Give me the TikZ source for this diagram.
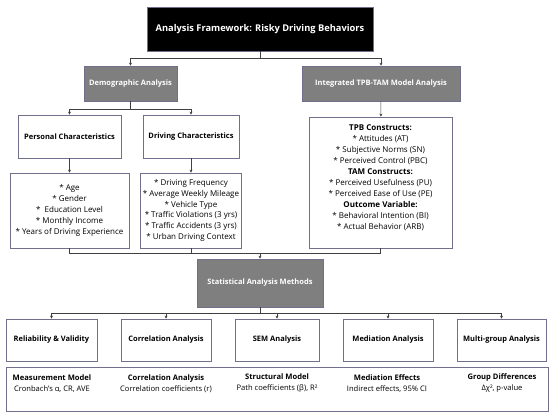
\documentclass[tikz,border=0pt]{standalone}
\usepackage{fontspec}
\setmainfont{Open Sans}
\usetikzlibrary{arrows.meta}
\definecolor{bordc}{HTML}{70708C}
\definecolor{grayfill}{HTML}{7F7F7F}
\definecolor{linec}{HTML}{404040}
\tikzset{
  box/.style={draw=bordc, line width=0.7pt, fill=white, inner sep=1pt, align=center, font=\fontsize{7.5}{9}\selectfont\bfseries},
  graybox/.style={box, fill=grayfill, text=white},
  itembox/.style={box, font=\fontsize{8}{10.8}\selectfont},
  conn/.style={draw=linec, line width=0.6pt},
  arr/.style={conn, -{Stealth[length=3pt,width=3pt]}},
  lbl/.style={align=center, inner sep=0pt, font=\fontsize{7.6}{11}\selectfont},
  tlbl/.style={align=center, inner sep=0pt, font=\fontsize{8}{11}\selectfont},
}
\begin{document}
\begin{tikzpicture}[x=1pt,y=-1pt]
\useasboundingbox (0,0) rectangle (550,415);
% top
\node[box, fill=black, text=white, minimum width=226pt, minimum height=44pt, font=\fontsize{9.3}{11}\selectfont\bfseries] (title) at (260,29) {Analysis Framework: Risky Driving Behaviors};
\node[graybox, minimum width=93pt, minimum height=35pt] (demo) at (130.5,83.5) {Demographic Analysis};
\node[graybox, minimum width=158pt, minimum height=35pt] (tpbtam) at (381,83.5) {Integrated TPB-TAM Model Analysis};
% second level
\node[box, minimum width=103pt, minimum height=43pt] (personal) at (69.5,136.5) {Personal Characteristics};
\node[box, minimum width=96pt, minimum height=43pt] (driving) at (191,136.5) {Driving Characteristics};
\node[itembox, minimum width=119pt, minimum height=75pt] (pitems) at (69.5,210.5) {* Age\\* Gender\\*\ \ Education Level\\* Monthly Income\\* Years of Driving Experience};
\node[itembox, minimum width=101pt, minimum height=75pt] (ditems) at (191,210.5) {* Driving Frequency\\* Average Weekly Mileage\\* Vehicle Type\\* Traffic Violations (3 yrs)\\* Traffic Accidents (3 yrs)\\* Urban Driving Context};
\node[draw=bordc, line width=0.7pt, fill=white, minimum width=143pt, minimum height=131pt] (tpb) at (380.5,182.5) {};
\node[tlbl] (tpbtext) at (380.5,177.5) {\textbf{TPB Constructs:}\\* Attitudes (AT)\\* Subjective Norms (SN)\\* Perceived Control (PBC)\\\textbf{TAM Constructs:}\\* Perceived Usefulness (PU)\\* Perceived Ease of Use (PE)\\\textbf{Outcome Variable:}\\* Behavioral Intention (BI)\\* Actual Behavior (ARB)};
% statistics
\node[graybox, minimum width=126pt, minimum height=48pt] (stat) at (260,283) {Statistical Analysis Methods};
\node[box, minimum width=91pt, minimum height=42pt] (rel) at (51.5,340) {Reliability \& Validity};
\node[box, minimum width=90pt, minimum height=42pt] (corr) at (166,340) {Correlation Analysis};
\node[box, minimum width=84pt, minimum height=42pt] (sem) at (277,340) {SEM Analysis};
\node[box, minimum width=90pt, minimum height=42pt] (med) at (388,340) {Mediation Analysis};
\node[box, minimum width=89pt, minimum height=42pt] (multi) at (501.5,340) {Multi-group Analysis};
\node[draw=bordc, line width=0.7pt, fill=white, minimum width=542pt, minimum height=44pt] (bottom) at (277,389) {};
\node[lbl] (b1) at (52,383.5) {\textbf{Measurement Model}\\Cronbach's α, CR, AVE};
\node[lbl] (b2) at (166,383.5) {\textbf{Correlation Analysis}\\Correlation coefficients (r)};
\node[lbl] (b3) at (277,383.5) {\textbf{Structural Model}\\Path coefficients (β), R²};
\node[lbl] (b4) at (387,383.5) {\textbf{Mediation Effects}\\Indirect effects, 95\% CI};
\node[lbl] (b5) at (502,383.5) {\textbf{Group Differences}\\Δχ², p-value};
% connectors
\draw[conn] (title.south) -- ++(0,7) coordinate (j1);
\draw[arr] (j1) -| (demo.north);
\draw[arr] (j1) -| (tpbtam.north);
\draw[conn] (demo.south) -- ++(0,8) coordinate (j2);
\draw[arr] (j2) -| (personal.north);
\draw[arr] (j2) -| (driving.north);
\draw[arr] (personal) -- (pitems);
\draw[arr] (driving) -- (ditems);
\draw[arr] (tpbtam) -- (tpb);
\coordinate (j3) at (260,253);
\draw[conn] (pitems.south) |- (j3);
\draw[conn] (ditems.south) |- (j3);
\draw[conn] (tpb.south) |- (j3);
\draw[arr] (j3) -- (stat.north);
\draw[conn] (stat.south) -- ++(0,6) coordinate (j4);
\draw[arr] (j4) -| (rel.north);
\draw[arr] (j4) -| (corr.north);
\draw[arr] (j4) -| (sem.north);
\draw[arr] (j4) -| (med.north);
\draw[arr] (j4) -| (multi.north);
\end{tikzpicture}
\end{document}
